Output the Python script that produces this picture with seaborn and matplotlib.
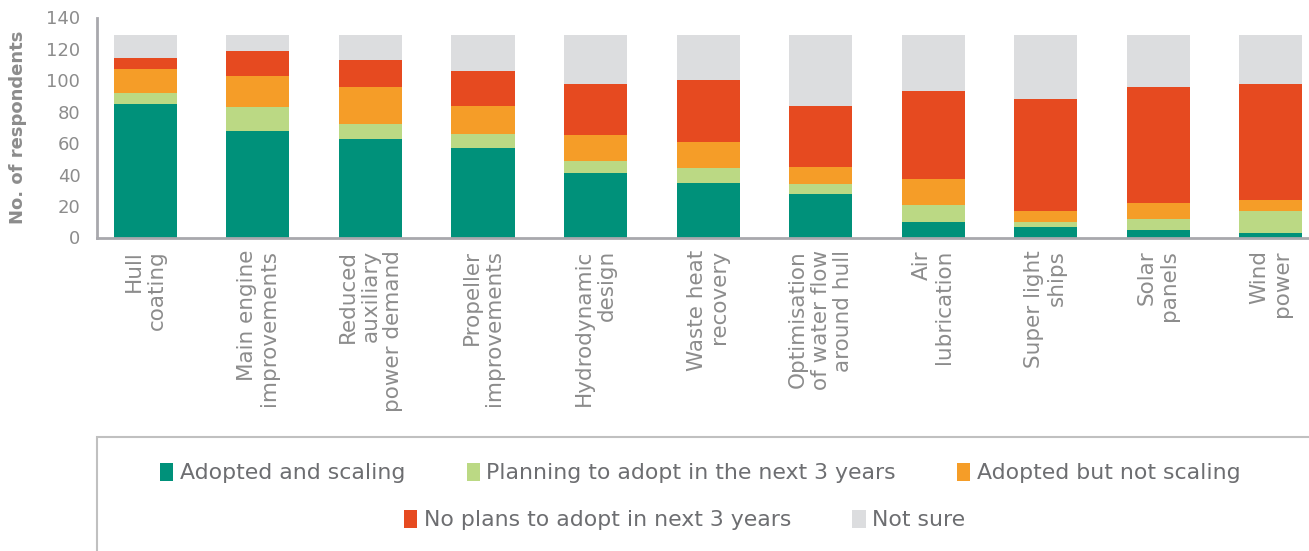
import matplotlib
matplotlib.use("Agg")
import matplotlib.pyplot as plt
from matplotlib.patches import Patch, Rectangle
import seaborn as sns
import pandas as pd
import numpy as np

categories = ["Hull\ncoating", "Main engine\nimprovements", "Reduced\nauxiliary\npower demand",
              "Propeller\nimprovements", "Hydrodynamic\ndesign", "Waste heat\nrecovery",
              "Optimisation\nof water flow\naround hull", "Air\nlubrication", "Super light\nships",
              "Solar\npanels", "Wind\npower"]
adopted_scaling = [85, 68, 63, 57, 41, 35, 28, 10, 7, 5, 3]
planning = [7, 15, 9, 9, 8, 9, 6, 11, 3, 7, 14]
adopted_not_scaling = [15, 20, 24, 18, 16, 17, 11, 16, 7, 10, 7]
no_plans = [7, 16, 17, 22, 33, 39, 39, 56, 71, 74, 74]
not_sure = [15, 10, 16, 23, 31, 29, 45, 36, 41, 33, 31]

series_names = ["Adopted and scaling", "Planning to adopt in the next 3 years",
                "Adopted but not scaling", "No plans to adopt in next 3 years", "Not sure"]
series_values = [adopted_scaling, planning, adopted_not_scaling, no_plans, not_sure]
colors = ["#00917a", "#bbd984", "#f59d28", "#e64a20", "#dcdddf"]
yticks = [0, 20, 40, 60, 80, 100, 120, 140]

sns.set_style("white")
plt.rcParams['font.family'] = ['DejaVu Sans']

fig = plt.figure(figsize=(13.09, 5.51), dpi=100)
ax = fig.add_axes([97 / 1309, 1 - 237.5 / 551, 1 - 97 / 1309, (237.5 - 17.5) / 551])

cum = np.cumsum(np.array(series_values), axis=0)
for i in range(len(series_names) - 1, -1, -1):
    df = pd.DataFrame({"cat": categories, "val": cum[i]})
    sns.barplot(data=df, x="cat", y="val", order=categories, color=colors[i],
                width=0.56, saturation=1, ax=ax, linewidth=0)

ax.set_ylim(0, 140)
ax.set_xlim(-0.43, 10.34)
ax.set_yticks(yticks)
ax.set_yticklabels([str(t) for t in yticks], fontsize=13, color="#8c8c8c")
ax.set_xticks(range(len(categories)))
ax.set_xticklabels(categories, rotation=90, fontsize=15.5, color="#8c8c8c",
                   ha="center", va="top", multialignment="right", linespacing=1.15)
ax.tick_params(axis="both", length=0)
ax.tick_params(axis="y", pad=12)
ax.tick_params(axis="x", pad=9)
ax.set_xlabel("")
ax.set_ylabel("No. of respondents", fontsize=13, fontweight="bold", color="#8c8c8c", labelpad=14)
for s in ["top", "right"]:
    ax.spines[s].set_visible(False)
for s in ["left", "bottom"]:
    ax.spines[s].set_color("#a8a8ad")
    ax.spines[s].set_linewidth(2)

# legend box
fig.add_artist(Rectangle((97 / 1309, -0.05), 1 - 97 / 1309 + 0.01, 0.05 + 1 - 437 / 551,
                         transform=fig.transFigure, fill=False, edgecolor="#c0c0c0", linewidth=1.5))

handles = [Patch(facecolor=c, edgecolor="none") for c in colors]
leg_kw = dict(frameon=False, fontsize=15.8, labelcolor="#6d6e71", handlelength=0.6,
              handleheight=0.9, handletextpad=0.3, columnspacing=2.8, loc="center")
leg1 = fig.legend(handles[:3], series_names[:3], ncol=3,
                  bbox_to_anchor=(0.535, 1 - 473 / 551), **leg_kw)
leg2 = fig.legend(handles[3:], series_names[3:], ncol=2,
                  bbox_to_anchor=(0.523, 1 - 520 / 551), **leg_kw)

fig.savefig("out.png", dpi=100)
